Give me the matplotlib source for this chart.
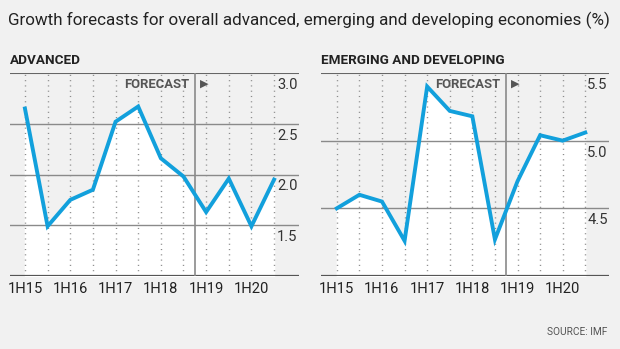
import matplotlib.pyplot as plt

plt.rcParams['font.family'] = ['Roboto', 'DejaVu Sans']

periods = ['1H15', '2H15', '1H16', '2H16', '1H17', '2H17',
           '1H18', '2H18', '1H19', '2H19', '1H20', '2H20']
advanced = [2.65, 1.49, 1.75, 1.85, 2.52, 2.67, 2.16, 1.98, 1.63, 1.96, 1.49, 1.95]
emerging = [4.5, 4.6, 4.55, 4.26, 5.4, 5.22, 5.18, 4.27, 4.7, 5.04, 5.0, 5.06]
forecast_start = 7.5

BG = '#f1f1f1'
BLUE = '#12a0dc'
GRID = '#8a8a8a'

fig = plt.figure(figsize=(6.2, 3.49), dpi=100, facecolor=BG)

fig.text(0.013, 0.965, 'Growth forecasts for overall advanced, emerging and developing economies (%)',
         fontsize=12.25, color='#222222', va='top', ha='left')
fig.text(0.979, 0.033, 'SOURCE: IMF', fontsize=7.3, color='#555555', ha='right', va='bottom')


def panel(rect, title, values, ylim, yticks, xlim):
    ax = fig.add_axes(rect)
    ax.set_facecolor(BG)
    x = list(range(len(values)))
    ax.fill_between(x, values, ylim[0], color='white', zorder=1)
    for xi in x:
        ax.axvline(xi, color='#8c8c8c', lw=1.0, ls=(0, (0.8, 3.0)), zorder=2)
    for t in yticks[1:-1]:
        ax.axhline(t, color=GRID, lw=1.0, zorder=2)
    ax.axhline(ylim[1], color='#666666', lw=1.5, zorder=2)
    ax.axhline(ylim[0], color='#555555', lw=1.6, zorder=2)
    ax.axvline(forecast_start, color='#8a8a8a', lw=1.2, zorder=2)
    ax.plot(x, values, color=BLUE, lw=2.8, zorder=4, solid_joinstyle='miter')
    ax.set_xlim(*xlim)
    ax.set_ylim(*ylim)
    for s in ax.spines.values():
        s.set_visible(False)
    ax.set_xticks(x[::2])
    ax.set_xticklabels(periods[::2], fontsize=10.6, color='#222222')
    ax.tick_params(axis='x', length=0, pad=4)
    ax.set_yticks([])
    # value labels sit just under each gridline, inside the right edge
    for t in yticks[1:]:
        ax.annotate(f'{t:.1f}', (1.0, t), xycoords=('axes fraction', 'data'),
                    xytext=(-1, -3.5), textcoords='offset points',
                    ha='right', va='top', fontsize=10.6, color='#333333', zorder=5)
    ax.annotate('FORECAST', (forecast_start, 1.0), xycoords=('data', 'axes fraction'),
                xytext=(-4, -3.5), textcoords='offset points', ha='right', va='top',
                fontsize=9.4, fontweight='bold', color='#555555', zorder=5)
    ax.annotate('\u25b6', (forecast_start, 1.0), xycoords=('data', 'axes fraction'),
                xytext=(3.5, -4), textcoords='offset points', ha='left', va='top',
                fontsize=8, color='#555555', family='DejaVu Sans', zorder=5)
    ax.annotate(title, (0.0, 1.0), xycoords='axes fraction', xytext=(0, 4),
                textcoords='offset points', ha='left', va='bottom',
                fontsize=9.7, fontweight='bold', color='#222222')
    return ax


panel([10 / 620, 73 / 349, 289 / 620, 203 / 349], 'ADVANCED', advanced,
      (1.0, 3.0), [1.0, 1.5, 2.0, 2.5, 3.0], (-0.66, 12.1))
panel([321 / 620, 73 / 349, 288 / 620, 203 / 349], 'EMERGING AND DEVELOPING', emerging,
      (4.0, 5.5), [4.0, 4.5, 5.0, 5.5], (-0.7, 12.05))

fig.savefig('out.png', dpi=100, facecolor=BG)
